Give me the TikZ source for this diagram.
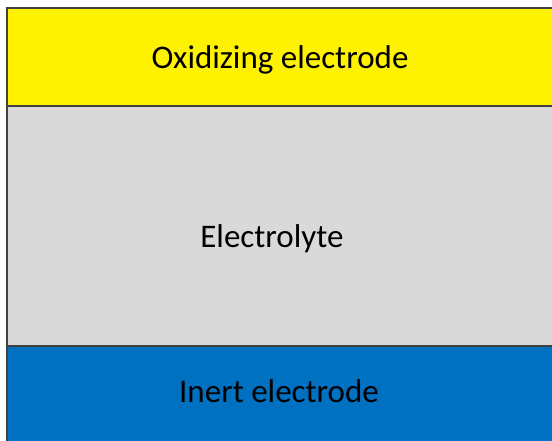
\documentclass[tikz,border=0pt]{standalone}
\usepackage{fontspec}
\setmainfont{Carlito}
\usetikzlibrary{positioning}

\begin{document}
\begin{tikzpicture}[x=1pt, y=1pt,
    layer/.style={rectangle, draw=black!75, line width=2pt, outer sep=0pt, inner sep=0pt, minimum width=575pt, anchor=north west},
    oxid/.style={layer, fill=yellow, minimum height=98pt},
    elyte/.style={layer, fill=gray!30, minimum height=240pt},
    inert/.style={layer, fill={rgb,255:red,0;green,112;blue,192}, minimum height=120pt},
    lbl/.style={font=\fontsize{33}{40}\selectfont, text=black, anchor=base},
]

\useasboundingbox (0,0) rectangle (552,-440);

% Layers, top to bottom
\node[oxid] (ox) at (7,-8) {};
\node[elyte, below=0pt of ox] (el) {};
\node[inert, below=0pt of el] (in) {};

% Labels
\node[lbl] (oxlbl) at (280,-68) {Oxidizing electrode};
\node[lbl] (ellbl) at (272,-247) {Electrolyte};
\node[lbl] (inlbl) at (279,-402) {Inert electrode};

\end{tikzpicture}
\end{document}
